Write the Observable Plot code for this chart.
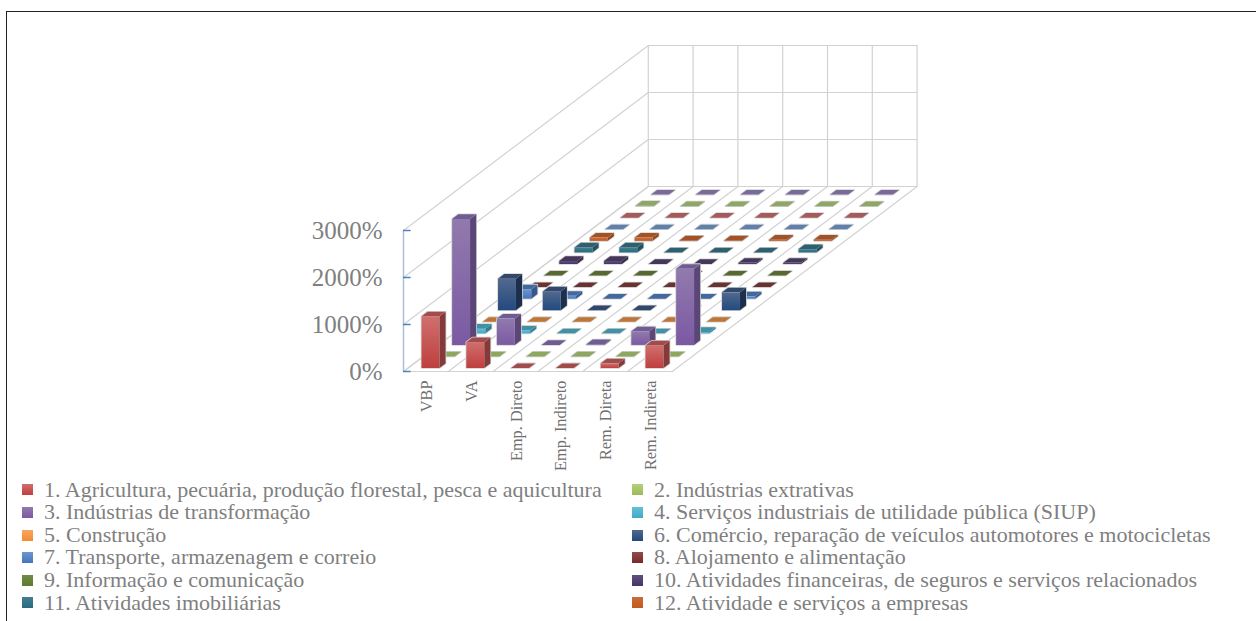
<!DOCTYPE html>
<html lang="pt">
<head>
<meta charset="utf-8">
<script src="https://cdn.jsdelivr.net/npm/d3@7"></script>
<script src="https://cdn.jsdelivr.net/npm/@observablehq/plot@0.6"></script>
<style>
  html, body { margin: 0; padding: 0; background: #fff; overflow: hidden; }
  #page { position: relative; width: 1256px; height: 621px; font-family: "Liberation Serif", serif; }
  #page svg { display: block; position: relative; }
  #edge { position: absolute; left: 6px; top: 11px; right: -3px; bottom: -3px; border: 1px solid #222; }
  #legend { position: relative; display: grid; grid-template-columns: 610px auto; padding-left: 22px;
            grid-auto-rows: 22.6px; font-size: 22px; color: #7f7f7f; line-height: 22.6px; }
  #legend div { display: flex; align-items: center; white-space: nowrap; }
  #legend i { display: block; width: 11px; height: 11px; margin-right: 11px; flex: none; }
</style>
</head>
<body>
<div id="page"><div id="edge"></div></div>
<script>
// Setores, in the order they run from the front of the floor to the back
const seriesNames = [
  "1. Agricultura, pecuária, produção florestal, pesca e aquicultura",
  "2. Indústrias extrativas",
  "3. Indústrias de transformação",
  "4. Serviços industriais de utilidade pública (SIUP)",
  "5. Construção",
  "6. Comércio, reparação de veículos automotores e motocicletas",
  "7. Transporte, armazenagem e correio",
  "8. Alojamento e alimentação",
  "9. Informação e comunicação",
  "10. Atividades financeiras, de seguros e serviços relacionados",
  "11. Atividades imobiliárias",
  "12. Atividade e serviços a empresas"
];
const categories = ["VBP", "VA", "Emp. Direto", "Emp. Indireto", "Rem. Direta", "Rem. Indireta"];
const yTicks = [0, 1000, 2000, 3000];

// Percent values per row, one entry per category
const agricultura   = [1100, 550, 0, 0, 100, 480];
const extrativas    = [0, 0, 0, 0, 0, 0];
const transformacao = [2680, 560, 0, 15, 290, 1620];
const siup          = [100, 60, 0, 0, 0, 30];
const construcao    = [0, 0, 0, 0, 0, 0];
const comercio      = [670, 400, 0, 0, 0, 380];
const transporte    = [200, 60, 0, 0, 0, 50];
const alojamento    = [0, 0, 0, 0, 0, 0];
const informacao    = [0, 0, 0, 0, 0, 0];
const financeiras   = [65, 65, 0, 0, 25, 25];
const imobiliarias  = [105, 105, 0, 0, 0, 70];
const empresas      = [70, 70, 10, 10, 25, 25];
// Four further rows at the back of the floor that carry no legend entry
const fundo13 = [0, 0, 0, 0, 0, 0];
const fundo14 = [0, 0, 0, 0, 0, 0];
const fundo15 = [10, 0, 0, 0, 0, 0];
const fundo16 = [0, 0, 0, 0, 0, 0];

const rows = [agricultura, extrativas, transformacao, siup, construcao, comercio, transporte,
  alojamento, informacao, financeiras, imobiliarias, empresas, fundo13, fundo14, fundo15, fundo16];

// Front gradient (top, bottom) for each row
const frontTop = ["#cf6f6e","#b6cf80","#917aad","#62c1d9","#f9a65f","#52698d","#6d96cd","#924c4a","#718b4a","#614f7d","#43808f","#cb6c3a","#6d96cd","#cf6f6e","#b6cf80","#917aad"];
const frontBottom = ["#bf3f3e","#9bbb55","#7b59a3","#3ea9c8","#f38a33","#22497f","#4476be","#79292a","#5e7a2e","#45356a","#296a7e","#c15a1f","#4476be","#bf3f3e","#9bbb55","#7b59a3"];
const topFaces = ["#a24b4a","#8fa65e","#6f5c93","#4090a6","#bf7538","#31486c","#41699f","#6a3230","#56692f","#45365a","#2f6070","#a35228","#5f80aa","#a65b5b","#90a664","#7a6a9a"];
const sideFaces = ["#843a39","#7d9048","#5a4778","#2f7f96","#b06a2c","#1c2f4d","#33598f","#4f2423","#46572a","#352a48","#205261","#8f4a20","#33598f","#843a39","#7d9048","#5a4778"];

// Oblique floor: each row shifts right and upward by a fixed amount of axis units
const rowX = 15.3 / 44.8;
const rowY = 246;
const rowCount = rows.length;
const lo = 0.3, hi = 0.7;
const vertex = (cat, row, value) => ({cat, row, value});

// One closed polygon per bar face, listed back to front so nearer bars paint over
const faces = [];
for (let r = rowCount - 1; r >= 0; --r) {
  rows[r].forEach((v, c) => {
    const x0 = c + lo, x1 = c + hi, z0 = r + lo, z1 = r + hi;
    const add = (pts, fill, stroke = "none", strokeWidth = 0) =>
      faces.push({pts: [...pts, pts[0]], fill, stroke, strokeWidth});
    add([vertex(x0, z0, 0), vertex(x1, z0, 0), vertex(x1, z1, 0), vertex(x1, z1, v), vertex(x0, z1, v), vertex(x0, z0, v)],
        "#fff", "#d2d2d2", 1.6);
    if (v > 0) {
      add([vertex(x0, z0, 0), vertex(x1, z0, 0), vertex(x1, z0, v), vertex(x0, z0, v)], `url(#front${r})`);
      add([vertex(x1, z0, 0), vertex(x1, z1, 0), vertex(x1, z1, v), vertex(x1, z0, v)], sideFaces[r]);
    }
    add([vertex(x0, z0, v), vertex(x1, z0, v), vertex(x1, z1, v), vertex(x0, z1, v)], topFaces[r]);
  });
}
const faceVertices = faces.flatMap((f, id) => f.pts.map((p) => ({...p, id, fill: f.fill, stroke: f.stroke, strokeWidth: f.strokeWidth})));

// Gridlines on the floor and the two walls
const catEdges = d3.range(categories.length + 1);
const grid = [
  ...catEdges.flatMap((c) => [
    {id: `f${c}`, ...vertex(c, 0, 0)}, {id: `f${c}`, ...vertex(c, rowCount, 0)}, {id: `f${c}`, ...vertex(c, rowCount, 3000)}
  ]),
  ...yTicks.flatMap((v) => [
    {id: `w${v}`, ...vertex(0, 0, v)}, {id: `w${v}`, ...vertex(0, rowCount, v)}, {id: `w${v}`, ...vertex(categories.length, rowCount, v)}
  ]),
  {id: "front", ...vertex(0, 0, 0)}, {id: "front", ...vertex(categories.length, 0, 0)}
];

const projX = (d) => d.cat + d.row * rowX;
const projY = (d) => d.value + d.row * rowY;

const gradients = () => {
  const defs = d3.create("svg:defs");
  rows.forEach((_, r) => {
    const g = defs.append("linearGradient").attr("id", `front${r}`)
      .attr("x1", 0).attr("y1", 0).attr("x2", 0).attr("y2", 1);
    g.append("stop").attr("offset", "0%").attr("stop-color", frontTop[r]);
    g.append("stop").attr("offset", "100%").attr("stop-color", frontBottom[r]);
  });
  return defs.node();
};

const chart = Plot.plot({
  width: 1256,
  height: 476,
  marginLeft: 403,
  marginTop: 0, marginRight: 0, marginBottom: 0,
  style: {background: "transparent", fontFamily: "'Liberation Serif', serif"},
  x: {domain: [0, 6], range: [403, 671.8], axis: null},
  y: {domain: [0, 3000], range: [371, 230], axis: null},
  color: {type: "identity"},
  marks: [
    gradients,
    Plot.line(grid, {x: projX, y: projY, z: "id", stroke: "#d2d2d2", strokeWidth: 1.2}),
    Plot.ruleX([0], {y1: 0, y2: 3000, stroke: "#a9bfdc", strokeWidth: 1.5}),
    Plot.ruleY(yTicks, {x1: 0, x2: 0.17, stroke: "#4f81bd", strokeWidth: 1.5}),
    Plot.axisY({ticks: yTicks, tickFormat: (d) => `${d}%`, tickSize: 0, tickPadding: 21, fontSize: 25, color: "#7f7f7f", label: null}),
    Plot.line(faceVertices, {x: projX, y: projY, z: "id", fill: "fill", stroke: "stroke", strokeWidth: "strokeWidth"}),
    Plot.text(categories, {x: (_, i) => i + 0.52, y: 0, text: (d) => d, rotate: -90, textAnchor: "end", dy: 9, fontSize: 16.3, fill: "#707070"})
  ]
});
const page = document.getElementById("page");
page.appendChild(chart);

// Legend in two columns beneath the chart
const legend = d3.select(page).append("div").attr("id", "legend").style("margin-top", "2.7px");
seriesNames.forEach((name, i) => {
  const item = legend.append("div");
  item.append("i").style("background", `linear-gradient(${frontTop[i]}, ${frontBottom[i]})`);
  item.append("span").text(name);
});
</script>
</body>
</html>
